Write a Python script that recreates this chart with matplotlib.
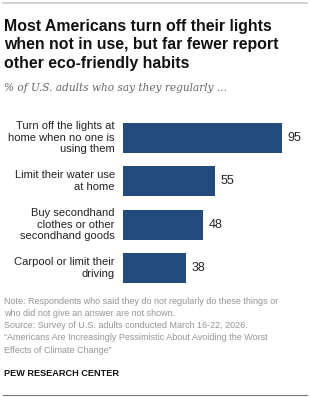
import matplotlib.pyplot as plt
from matplotlib.lines import Line2D

categories = ["Turn off the lights at\nhome when no one is\nusing them",
              "Limit their water use\nat home",
              "Buy secondhand\nclothes or other\nsecondhand goods",
              "Carpool or limit their\ndriving"]
values = [95, 55, 48, 38]

W, H = 310, 397
fig = plt.figure(figsize=(W / 100, H / 100), dpi=100)
plt.rcParams['font.family'] = ['Liberation Sans', 'DejaVu Sans']

def fx(px):
    return px / W

def fy(py):
    return 1 - py / H

# rules at top and bottom
fig.add_artist(Line2D([fx(3), fx(307)], [fy(3), fy(3)], color='#c8c8c8', lw=1.2))
fig.add_artist(Line2D([fx(3), fx(307)], [fy(395), fy(395)], color='#777777', lw=0.8))

title = "Most Americans turn off their lights\nwhen not in use, but far fewer report\nother eco-friendly habits"
fig.text(fx(4), fy(45), title, fontsize=11.4, fontweight='bold', va='center', ha='left',
         linespacing=1.28, color='#111111')
fig.text(fx(4), fy(88), "% of U.S. adults who say they regularly ...", fontsize=7.6,
         style='italic', family='DejaVu Serif', color='#666666', va='center')

# bar area
ax = fig.add_axes([fx(123), fy(290), fx(290) - fx(123), fy(116) - fy(290)])
ypos = list(range(len(values)))
ax.barh(ypos, values, height=0.69, color='#234a7c')
ax.set_xlim(0, 100)
ax.set_ylim(len(values) - 0.5, -0.5)
ax.axis('off')
for y, v, c in zip(ypos, values, categories):
    ax.annotate(str(v), (v, y), xytext=(4, 0), textcoords='offset points',
                va='center', ha='left', fontsize=9, color='#222222')
    ax.annotate(c, (0, y), xytext=(-6, 0), textcoords='offset points',
                va='center', ha='right', fontsize=8, color='#222222', linespacing=1.2)

note = ("Note: Respondents who said they do not regularly do these things or\n"
        "who did not give an answer are not shown.\n"
        "Source: Survey of U.S. adults conducted March 16-22, 2026.\n"
        "\u201cAmericans Are Increasingly Pessimistic About Avoiding the Worst\n"
        "Effects of Climate Change\u201d")
fig.text(fx(4), fy(297), note, fontsize=6.5, color='#959595', va='top', ha='left',
         linespacing=1.45)
fig.text(fx(4), fy(373), "PEW RESEARCH CENTER", fontsize=6.6, fontweight='bold',
         color='#111111', va='center')

fig.savefig('out.png', dpi=100)
